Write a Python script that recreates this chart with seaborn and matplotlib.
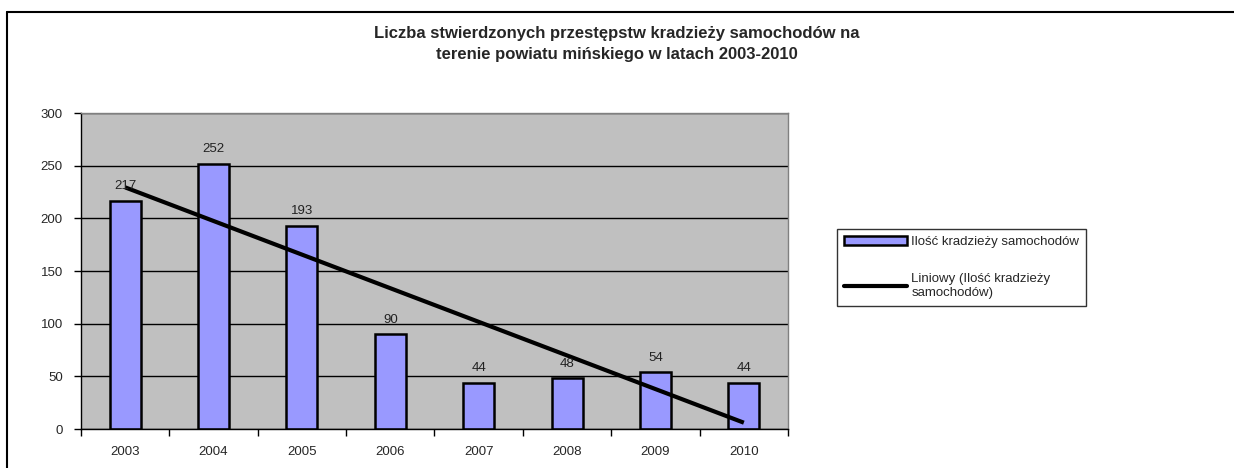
import numpy as np
import pandas as pd
import matplotlib
matplotlib.use("Agg")
import matplotlib.pyplot as plt
import seaborn as sns
from matplotlib.lines import Line2D
from matplotlib.patches import Patch

# Style
sns.set_style("white")
plt.rcParams['font.family'] = ['Liberation Sans', 'DejaVu Sans']

# Data
years = ["2003", "2004", "2005", "2006", "2007", "2008", "2009", "2010"]
thefts = [217, 252, 193, 90, 44, 48, 54, 44]
title = ("Liczba stwierdzonych przestępstw kradzieży samochodów na\n"
         "terenie powiatu mińskiego w latach 2003-2010")
bar_label = "Ilość kradzieży samochodów"
trend_label = "Liniowy (Ilość kradzieży\nsamochodów)"

df = pd.DataFrame({"rok": years, "ilosc": thefts})

fig = plt.figure(figsize=(12.34, 4.68), dpi=100)
ax = fig.add_axes([0.0656, 0.0833, 0.573, 0.675])
ax.set_facecolor("#C0C0C0")

# gridlines
ax.set_axisbelow(True)
ax.yaxis.grid(True, color="black", linewidth=1)

sns.barplot(data=df, x="rok", y="ilosc", color="#9999FF", width=0.35,
            edgecolor="black", linewidth=1.8, saturation=1, ax=ax)

# bar value labels
for bar, v in zip(ax.patches, thefts):
    ax.annotate(str(v), (bar.get_x() + bar.get_width() / 2, v),
                xytext=(0, 6), textcoords="offset points",
                ha="center", va="bottom", fontsize=9.5, color="#222222")

# linear trend
xs = np.arange(len(thefts))
slope, intercept = np.polyfit(xs, thefts, 1)
ax.plot(xs, slope * xs + intercept, color="black", linewidth=3,
        solid_capstyle="butt")

ax.set_xlim(-0.5, len(years) - 0.5)
ax.set_ylim(0, 300)
ax.set_yticks(range(0, 301, 50))
ax.set_xlabel("")
ax.set_ylabel("")

# tick marks between categories
ax.set_xticks(np.arange(-0.5, len(years), 1), minor=True)
ax.tick_params(axis="x", which="major", length=0, pad=12, labelsize=9.5)
ax.tick_params(axis="x", which="minor", length=5, width=1, color="black",
               direction="out", bottom=True)
ax.tick_params(axis="y", length=5, width=1, color="black", direction="out",
               left=True, pad=8, labelsize=9.5)

for side in ["left", "bottom"]:
    ax.spines[side].set_color("black")
    ax.spines[side].set_linewidth(1)
for side in ["top", "right"]:
    ax.spines[side].set_color("#808080")
    ax.spines[side].set_linewidth(1)

fig.suptitle(title, x=0.5, y=0.945, fontsize=12, fontweight="bold",
             linespacing=1.55)

handles = [Patch(facecolor="#9999FF", edgecolor="black", linewidth=1.8),
           Line2D([0], [0], color="black", linewidth=3)]
leg = fig.legend(handles, [bar_label, trend_label],
                 loc="upper left", bbox_to_anchor=(0.678, 0.511),
                 borderaxespad=0, frameon=True, fancybox=False, fontsize=9.5,
                 handlelength=4.8, handleheight=0.6, handletextpad=0.3,
                 labelspacing=1.9, borderpad=0.55)
leg.get_frame().set_edgecolor("black")
leg.get_frame().set_linewidth(1)

# outer chart frame (cut on right and bottom)
fig.add_artist(Line2D([7 / 1234, 7 / 1234], [0, 1 - 12 / 468],
                      color="black", linewidth=1.5, transform=fig.transFigure))
fig.add_artist(Line2D([7 / 1234, 1], [1 - 12 / 468, 1 - 12 / 468],
                      color="black", linewidth=1.5, transform=fig.transFigure))

plt.savefig("out.png", dpi=100)
